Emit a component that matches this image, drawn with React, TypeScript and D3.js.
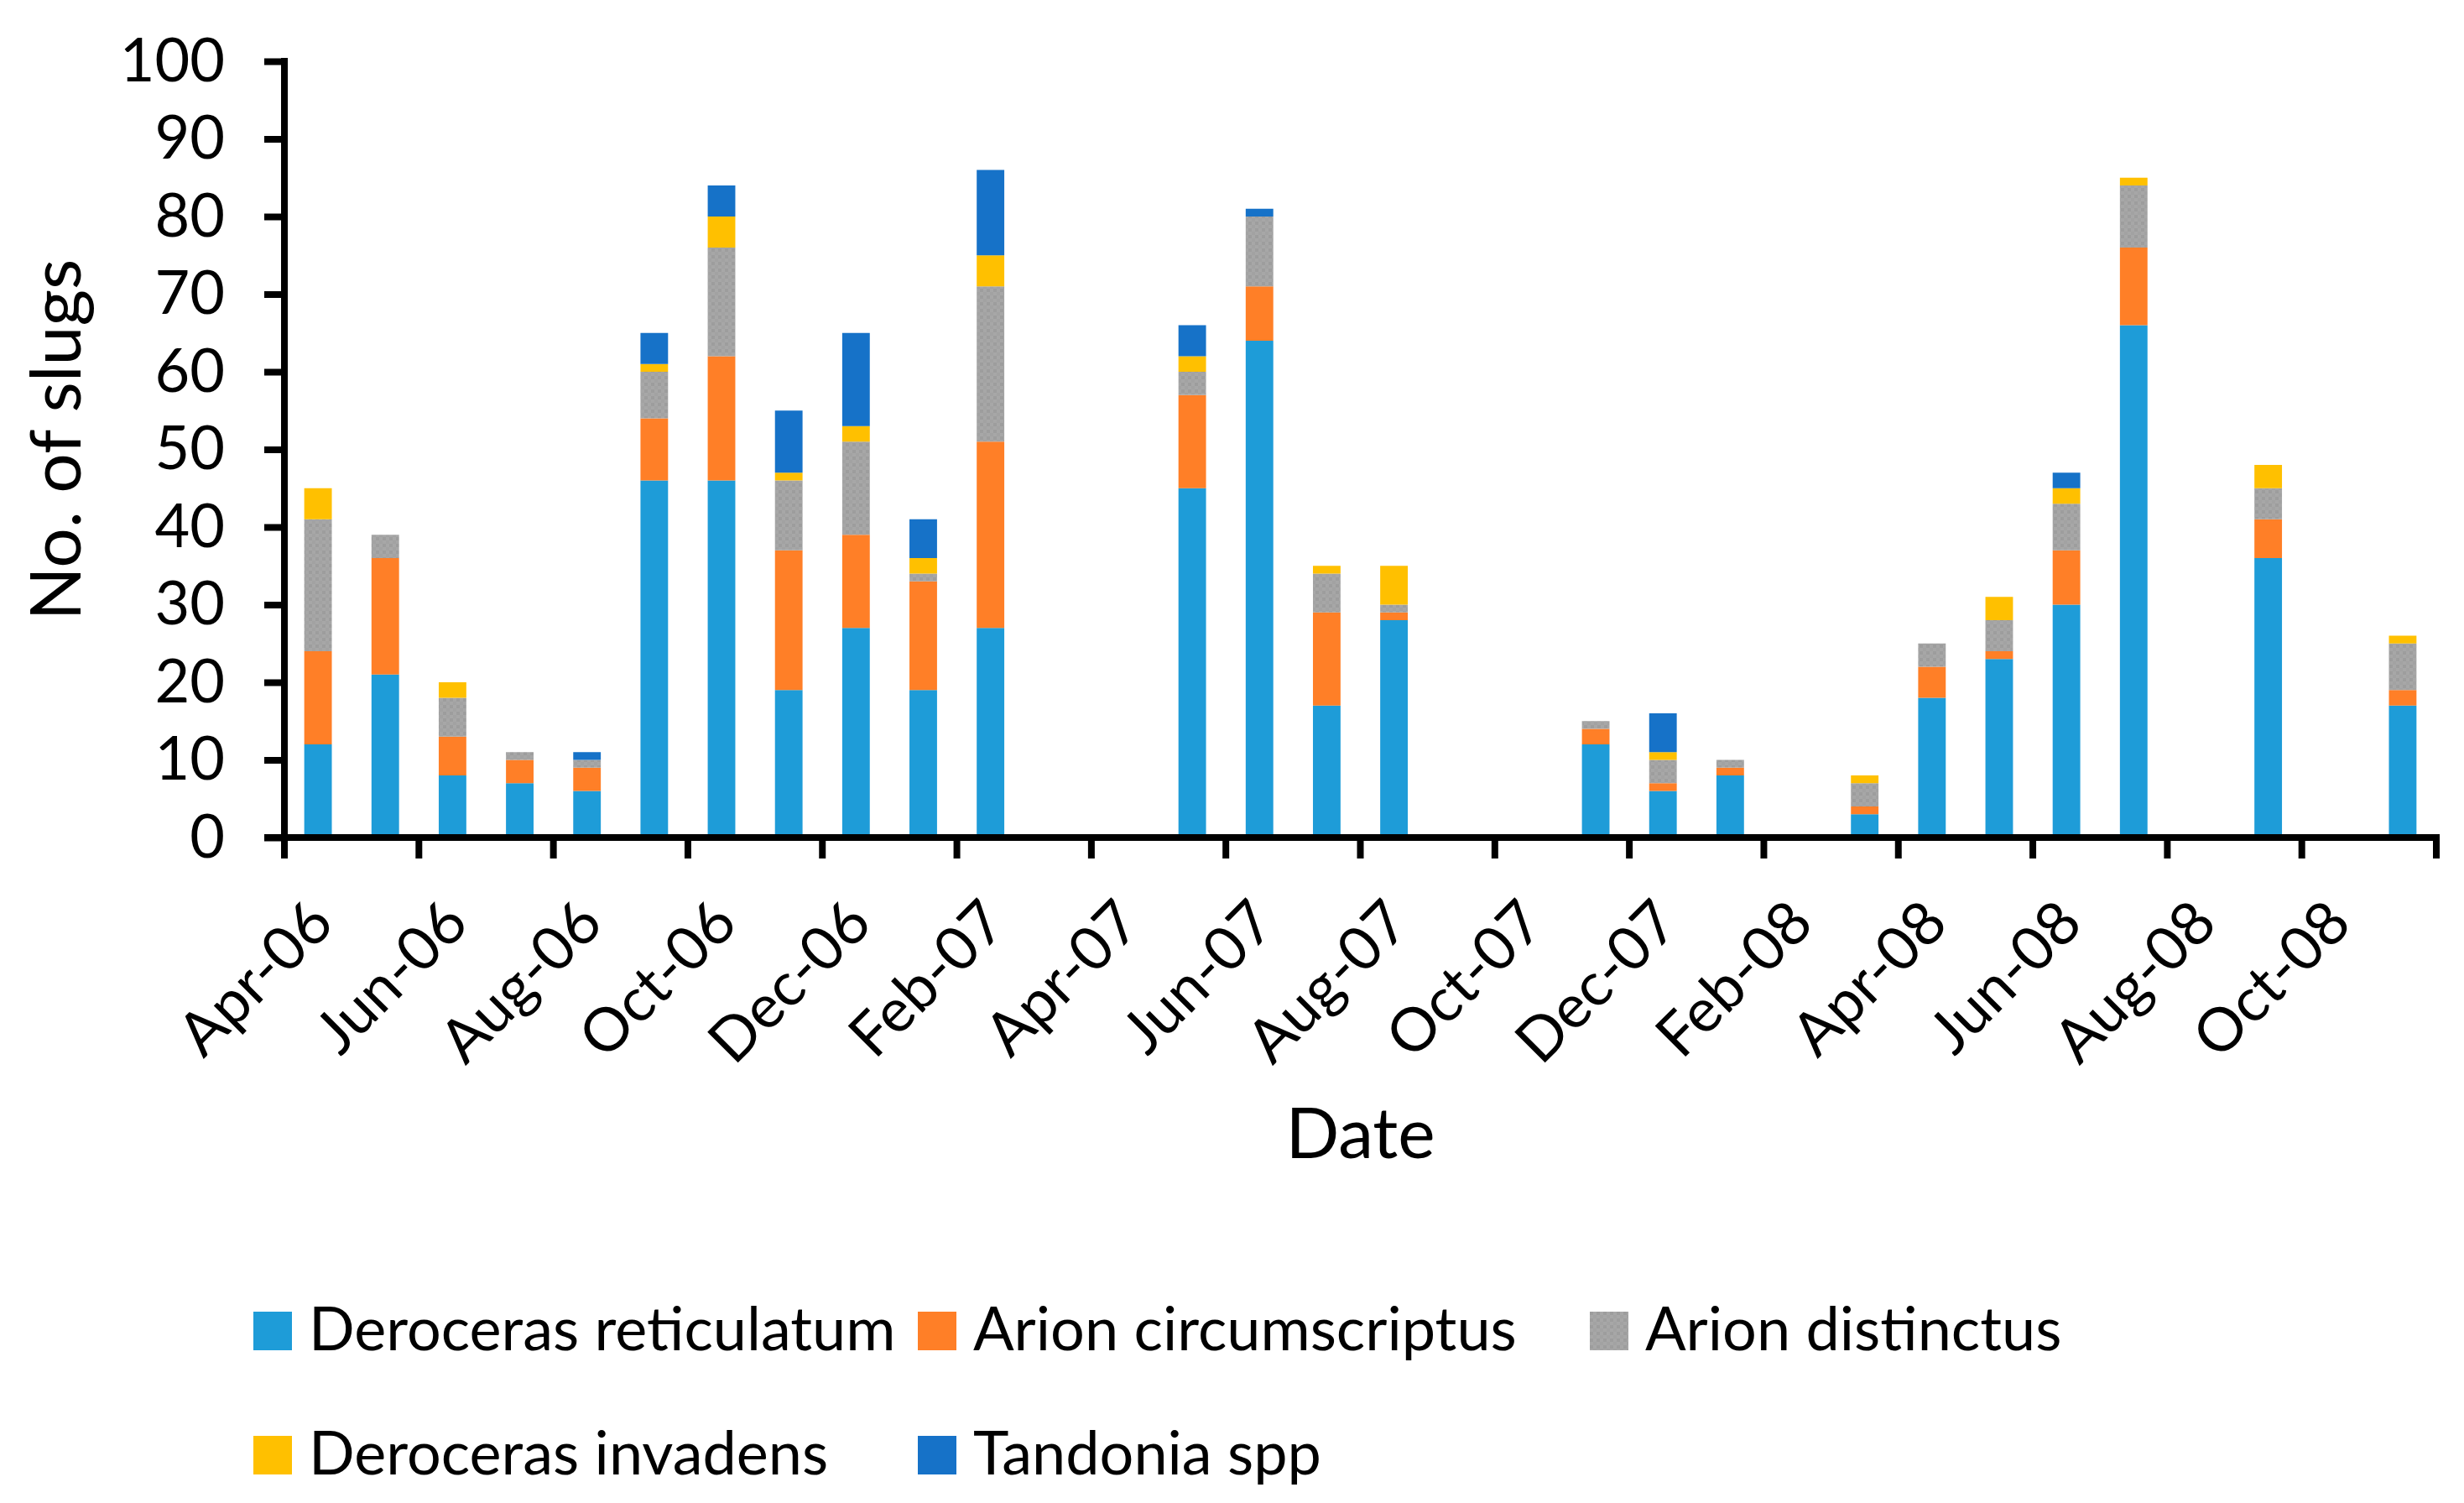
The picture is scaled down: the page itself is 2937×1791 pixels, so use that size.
import React, { useEffect, useRef } from "react";
import * as d3 from "d3";

// every month slot on the date axis
const allMonths = [
  "Apr-06", "May-06", "Jun-06", "Jul-06", "Aug-06", "Sep-06", "Oct-06", "Nov-06",
  "Dec-06", "Jan-07", "Feb-07", "Mar-07", "Apr-07", "May-07", "Jun-07", "Jul-07",
  "Aug-07", "Sep-07", "Oct-07", "Nov-07", "Dec-07", "Jan-08", "Feb-08", "Mar-08",
  "Apr-08", "May-08", "Jun-08", "Jul-08", "Aug-08", "Sep-08", "Oct-08", "Nov-08",
];

// months with a sample
const sampleMonths = [
  "Apr-06", "May-06", "Jun-06", "Jul-06", "Aug-06", "Sep-06", "Oct-06", "Nov-06",
  "Dec-06", "Jan-07", "Feb-07", "May-07", "Jun-07", "Jul-07", "Aug-07", "Nov-07",
  "Dec-07", "Jan-08", "Mar-08", "Apr-08", "May-08", "Jun-08", "Jul-08", "Sep-08",
  "Nov-08",
];

const reticulatum = [12, 21, 8, 7, 6, 46, 46, 19, 27, 19, 27, 45, 64, 17, 28, 12, 6, 8, 3, 18, 23, 30, 66, 36, 17];
const circumscriptus = [12, 15, 5, 3, 3, 8, 16, 18, 12, 14, 24, 12, 7, 12, 1, 2, 1, 1, 1, 4, 1, 7, 10, 5, 2];
const distinctus = [17, 3, 5, 1, 1, 6, 14, 9, 12, 1, 20, 3, 9, 5, 1, 1, 3, 1, 3, 3, 4, 6, 8, 4, 6];
const invadens = [4, 0, 2, 0, 0, 1, 4, 1, 2, 2, 4, 2, 0, 1, 5, 0, 1, 0, 1, 0, 3, 2, 1, 3, 1];
const tandonia = [0, 0, 0, 0, 1, 4, 4, 8, 12, 5, 11, 4, 1, 0, 0, 0, 5, 0, 0, 0, 0, 2, 0, 0, 0];

const seriesNames = [
  "Deroceras reticulatum",
  "Arion circumscriptus",
  "Arion distinctus",
  "Deroceras invadens",
  "Tandonia spp",
];

const yTicks = [0, 10, 20, 30, 40, 50, 60, 70, 80, 90, 100];

const WIDTH = 2937;
const HEIGHT = 1791;
const FONT = "Lato, 'Noto Sans', sans-serif";

const Chart: React.FC = () => {
  const svgRef = useRef<SVGSVGElement>(null);

  useEffect(() => {
    if (!svgRef.current) return;
    const svg = d3.select(svgRef.current);
    svg.selectAll("*").remove();

    const left = 339;
    const right = 2904;
    const top = 73;
    const bottom = 998;

    const colors = ["#1E9CD8", "#FF7F27", "url(#greyDots)", "#FFC000", "#1672C8"];

    // dotted grey fill used by Arion distinctus
    const defs = svg.append("defs");
    const pat = defs
      .append("pattern")
      .attr("id", "greyDots")
      .attr("patternUnits", "userSpaceOnUse")
      .attr("width", 8)
      .attr("height", 8);
    pat.append("rect").attr("width", 8).attr("height", 8).attr("fill", "#A7A7A7");
    pat.append("rect").attr("x", 0).attr("y", 0).attr("width", 4).attr("height", 4).attr("fill", "#9D9D9D");
    pat.append("rect").attr("x", 4).attr("y", 4).attr("width", 4).attr("height", 4).attr("fill", "#A2A2A2");

    // Scales
    const slot = d3.scaleBand().domain(allMonths).range([left, right]);
    const x = d3
      .scaleBand()
      .domain(allMonths)
      .range([left, right])
      .paddingInner(0.59)
      .paddingOuter(0.295);
    const y = d3.scaleLinear().domain([0, 100]).range([bottom, top]);

    // Stack data
    const rows = sampleMonths.map((m, i) => ({
      month: m,
      s0: reticulatum[i],
      s1: circumscriptus[i],
      s2: distinctus[i],
      s3: invadens[i],
      s4: tandonia[i],
    }));
    const stack = d3.stack<any>().keys(["s0", "s1", "s2", "s3", "s4"]);
    const stacked = stack(rows);

    const g = svg.append("g");
    stacked.forEach((layer, li) => {
      g.selectAll(`.bar-${li}`)
        .data(layer.filter((d) => d[1] - d[0] > 0))
        .enter()
        .append("rect")
        .attr("class", `bar-${li}`)
        .attr("x", (d) => x(d.data.month)!)
        .attr("y", (d) => y(d[1]))
        .attr("width", x.bandwidth())
        .attr("height", (d) => y(d[0]) - y(d[1]))
        .attr("fill", colors[li]);
    });

    // Y axis
    const yAxis = d3
      .axisLeft(y)
      .tickValues(yTicks)
      .tickSize(24)
      .tickSizeOuter(0)
      .tickPadding(47)
      .tickFormat((d) => String(d));
    const yg = svg.append("g").attr("transform", `translate(${left},0)`).call(yAxis);
    yg.select(".domain").remove();
    yg.selectAll(".tick line").attr("stroke", "#000").attr("stroke-width", 8);
    yg.selectAll(".tick text")
      .style("font-family", FONT)
      .style("font-size", "72px")
      .attr("fill", "#000");

    // X ticks between every second month
    const tickEdges = allMonths
      .filter((_, i) => i % 2 === 0)
      .map((m) => slot(m)!)
      .concat([right]);
    svg
      .append("g")
      .selectAll("line")
      .data(tickEdges)
      .enter()
      .append("line")
      .attr("x1", (d) => d)
      .attr("x2", (d) => d)
      .attr("y1", bottom)
      .attr("y2", bottom + 25)
      .attr("stroke", "#000")
      .attr("stroke-width", 8);

    // Axis lines
    svg
      .append("line")
      .attr("x1", left)
      .attr("x2", left)
      .attr("y1", top - 4)
      .attr("y2", bottom)
      .attr("stroke", "#000")
      .attr("stroke-width", 8);
    svg
      .append("line")
      .attr("x1", left - 24)
      .attr("x2", right + 4)
      .attr("y1", bottom)
      .attr("y2", bottom)
      .attr("stroke", "#000")
      .attr("stroke-width", 8);

    // X tick labels
    svg
      .append("g")
      .selectAll("text")
      .data(allMonths.filter((_, i) => i % 2 === 0))
      .enter()
      .append("text")
      .attr(
        "transform",
        (d) => `translate(${slot(d)! + slot.bandwidth() / 2 + 4},1086) rotate(-45)`
      )
      .attr("text-anchor", "end")
      .attr("dy", "0.35em")
      .style("font-family", FONT)
      .style("font-size", "72px")
      .attr("fill", "#000")
      .text((d) => d);

    // Axis titles
    svg
      .append("text")
      .attr("transform", `translate(96,524) rotate(-90)`)
      .attr("text-anchor", "middle")
      .style("font-family", FONT)
      .style("font-size", "84px")
      .attr("fill", "#000")
      .text("No. of slugs");

    svg
      .append("text")
      .attr("x", (left + right) / 2)
      .attr("y", 1380)
      .attr("text-anchor", "middle")
      .style("font-family", FONT)
      .style("font-size", "84px")
      .attr("fill", "#000")
      .text("Date");

    // Legend
    const legendPos = [
      [302, 1563],
      [1094, 1563],
      [1895, 1563],
      [302, 1711],
      [1094, 1711],
    ];
    const lg = svg
      .append("g")
      .selectAll("g")
      .data(seriesNames)
      .enter()
      .append("g")
      .attr("transform", (_, i) => `translate(${legendPos[i][0]},${legendPos[i][1]})`);
    lg.append("rect")
      .attr("width", 46)
      .attr("height", 46)
      .attr("fill", (_, i) => colors[i]);
    lg.append("text")
      .attr("x", 66)
      .attr("y", 46)
      .style("font-family", FONT)
      .style("font-size", "72px")
      .attr("fill", "#000")
      .text((d) => d);
  }, []);

  return <svg ref={svgRef} width={WIDTH} height={HEIGHT} style={{ display: "block" }} />;
};

export default function App() {
  return (
    <div style={{ position: "absolute", left: 0, top: 0, background: "#fff" }}>
      <Chart />
    </div>
  );
}
